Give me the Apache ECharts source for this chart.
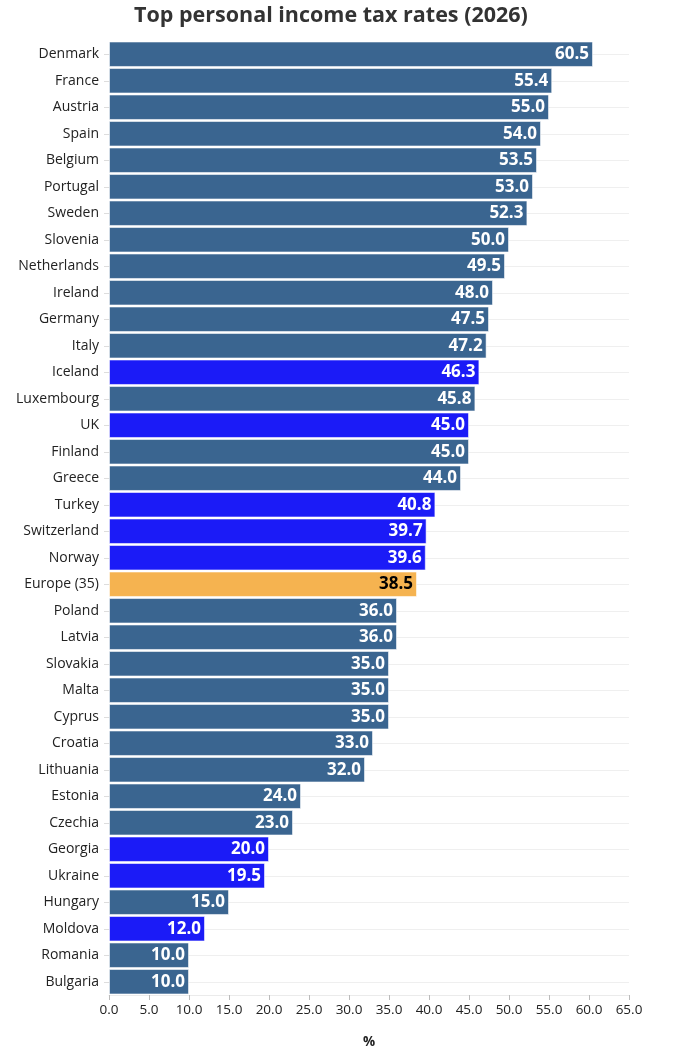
<!DOCTYPE html>
<html>
<head>
<meta charset="utf-8">
<script src="https://cdn.jsdelivr.net/npm/echarts@6/dist/echarts.min.js"></script>
<style>
  html, body { margin: 0; padding: 0; background: #fff; }
  #chart { width: 700px; height: 1062px; }
</style>
</head>
<body>
<div id="chart"></div>
<script>
// data, top to bottom
var countries = ['Denmark','France','Austria','Spain','Belgium','Portugal','Sweden','Slovenia',
  'Netherlands','Ireland','Germany','Italy','Iceland','Luxembourg','UK','Finland','Greece',
  'Turkey','Switzerland','Norway','Europe (35)','Poland','Latvia','Slovakia','Malta','Cyprus',
  'Croatia','Lithuania','Estonia','Czechia','Georgia','Ukraine','Hungary','Moldova','Romania','Bulgaria'];
var rates = [60.5,55.4,55.0,54.0,53.5,53.0,52.3,50.0,49.5,48.0,47.5,47.2,46.3,45.8,45.0,45.0,44.0,
  40.8,39.7,39.6,38.5,36.0,36.0,35.0,35.0,35.0,33.0,32.0,24.0,23.0,20.0,19.5,15.0,12.0,10.0,10.0];
// 'eu' member, 'non' non-member, 'avg' European average
var groups = ['eu','eu','eu','eu','eu','eu','eu','eu','eu','eu','eu','eu','non','eu','non','eu','eu',
  'non','non','non','avg','eu','eu','eu','eu','eu','eu','eu','eu','eu','non','non','eu','non','eu','eu'];
var xTicks = [0,5,10,15,20,25,30,35,40,45,50,55,60,65];

var groupColor = { eu: '#3a6590', non: '#1b1bf7', avg: '#f5b350' };

var option = {
    backgroundColor: '#fff',
    textStyle: { fontFamily: 'Open Sans' },
    title: {
        text: 'Top personal income tax rates (2026)',
        left: 129,
        top: 0,
        textStyle: { fontSize: 21.5, fontWeight: 'bold', color: '#333', fontFamily: 'Open Sans' }
    },
    grid: { left: 109, right: 71, top: 41, bottom: 67 },
    xAxis: {
        type: 'value',
        min: xTicks[0],
        max: xTicks[xTicks.length - 1],
        interval: 5,
        name: '%',
        nameLocation: 'middle',
        nameGap: 40,
        nameTextStyle: { fontWeight: 'bold', fontSize: 13.5, color: '#222' },
        axisLine: { show: true, lineStyle: { color: '#ebebeb' } },
        axisTick: { show: true, length: 5, lineStyle: { color: '#bbb' } },
        axisLabel: { color: '#222', fontSize: 13.5, formatter: function (v) { return v.toFixed(1); } },
        splitLine: { show: false }
    },
    yAxis: {
        type: 'category',
        inverse: true,
        data: countries,
        axisLine: { show: false },
        axisTick: { show: true, alignWithLabel: true, length: 5, lineStyle: { color: '#ddd' } },
        axisLabel: { color: '#222', fontSize: 14, margin: 10 },
        splitLine: { show: true, alignWithLabel: true, lineStyle: { color: '#efefef' } }
    },
    series: [{
        type: 'bar',
        barCategoryGap: '4%',
        data: rates.map(function (v, i) {
            return {
                value: v,
                itemStyle: { color: groupColor[groups[i]] },
                label: { color: groups[i] === 'avg' ? '#000' : '#fff' }
            };
        }),
        itemStyle: { borderColor: 'rgba(255,255,255,0.55)', borderWidth: 1 },
        label: {
            show: true,
            position: 'insideRight',
            distance: 4,
            fontSize: 17,
            fontWeight: 'bold',
            formatter: function (p) { return p.value.toFixed(1); }
        }
    }]
};

var myChart = echarts.init(document.getElementById('chart'));
myChart.setOption(option);
</script>
</body>
</html>
